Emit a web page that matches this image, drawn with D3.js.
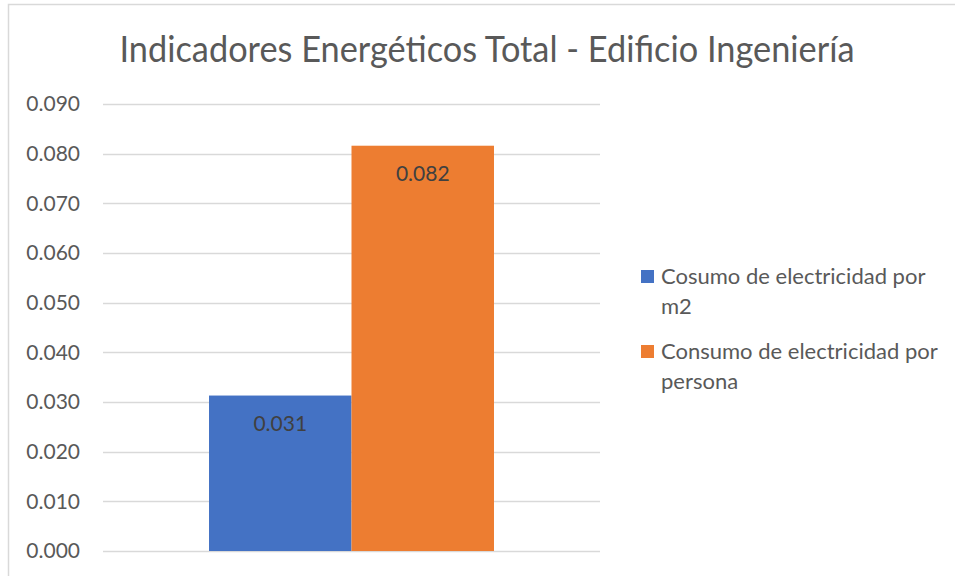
<!DOCTYPE html>
<html>
<head lang="es">
    <meta charset="UTF-8">
    <title>Indicadores Energéticos</title>
    <script type="text/javascript" src="https://cdn.jsdelivr.net/npm/d3@7/dist/d3.min.js"></script>
    <style>
        body { margin: 0; background: #fff; }
        text { font-family: Lato, "Open Sans", sans-serif; }
    </style>
</head>
<body>
<div class="holder"></div>

<script>
    var categories = ["Total"];
    var series = ["Cosumo de electricidad por m2", "Consumo de electricidad por persona"];
    var legendLines = [["Cosumo de electricidad por", "m2"], ["Consumo de electricidad por", "persona"]];
    var values = [0.0313, 0.0816];
    var colors = ["#4472c4", "#ed7d31"];
    var yTicks = [0, 0.01, 0.02, 0.03, 0.04, 0.05, 0.06, 0.07, 0.08, 0.09];

    var svg = d3.select(".holder")
            .append("svg")
            .attr("width", 955)
            .attr("height", 576);

    // chart frame, runs off the right/bottom edge
    svg.append("rect")
            .attr("x", 8.5).attr("y", 4.5)
            .attr("width", 1000).attr("height", 700)
            .attr("fill", "#fff")
            .attr("stroke", "#d9d9d9")
            .attr("stroke-width", 1.5);

    svg.append("text")
            .attr("x", 487).attr("y", 62)
            .attr("text-anchor", "middle")
            .attr("font-size", 37)
            .attr("fill", "#595959")
            .attr("textLength", 735)
            .attr("lengthAdjust", "spacingAndGlyphs")
            .text("Indicadores Energéticos Total - Edificio Ingeniería");

    var y = d3.scaleLinear().domain([0, 0.09]).range([551, 104]);
    var x0 = d3.scaleBand().domain(categories).range([103, 600]).paddingInner(0).paddingOuter(0.372);
    var x1 = d3.scaleBand().domain(series).range([0, x0.bandwidth()]).padding(0);

    // gridlines
    svg.selectAll("line.grid")
            .data(yTicks)
            .enter()
            .append("line")
            .attr("class", "grid")
            .attr("x1", 103).attr("x2", 600)
            .attr("y1", function(d) {return Math.round(y(d)) + 0.5;})
            .attr("y2", function(d) {return Math.round(y(d)) + 0.5;})
            .attr("stroke", "#d9d9d9")
            .attr("stroke-width", 1.5);

    // y axis labels
    var yAxis = d3.axisLeft(y).tickValues(yTicks).tickFormat(d3.format(".3f")).tickSize(0).tickPadding(0);
    var ax = svg.append("g").attr("transform", "translate(80,0)").call(yAxis);
    ax.select(".domain").remove();
    ax.selectAll("text")
            .attr("font-size", 21)
            .attr("font-family", "Lato, 'Open Sans', sans-serif")
            .attr("fill", "#595959");

    // bars
    var g = svg.append("g").attr("transform", "translate(" + x0(categories[0]) + ",0)");
    g.selectAll("rect")
            .data(values)
            .enter()
            .append("rect")
            .attr("x", function(d, i) {return x1(series[i]);})
            .attr("y", function(d) {return y(d);})
            .attr("width", x1.bandwidth())
            .attr("height", function(d) {return y(0) - y(d);})
            .attr("fill", function(d, i) {return colors[i];});

    g.selectAll("text.val")
            .data(values)
            .enter()
            .append("text")
            .attr("class", "val")
            .attr("x", function(d, i) {return x1(series[i]) + x1.bandwidth() / 2;})
            .attr("y", function(d) {return y(d) + 35;})
            .attr("text-anchor", "middle")
            .attr("font-size", 21)
            .attr("fill", "#404040")
            .text(function(d) {return d3.format(".3f")(d);});

    // legend
    var leg = svg.selectAll("g.leg")
            .data(series)
            .enter()
            .append("g")
            .attr("class", "leg")
            .attr("transform", function(d, i) {return "translate(641," + (270 + i * 75) + ")";});
    leg.append("rect")
            .attr("width", 13).attr("height", 13)
            .attr("fill", function(d, i) {return colors[i];});
    leg.each(function(d, i) {
        var t = d3.select(this).append("text")
                .attr("x", 20).attr("y", 13)
                .attr("font-size", 22)
                .attr("fill", "#595959");
        legendLines[i].forEach(function(line, j) {
            t.append("tspan").attr("x", 20).attr("y", 14 + j * 30).text(line);
        });
    });
</script>
</body>
</html>
